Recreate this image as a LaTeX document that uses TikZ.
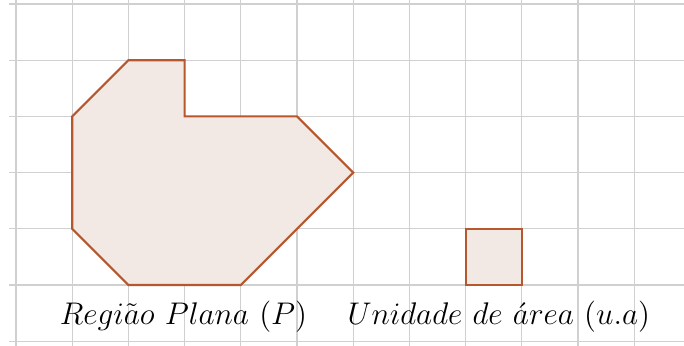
\documentclass[tikz,border=0pt]{standalone}
\usepackage{graphicx}
\usepackage{tikz}
\definecolor{gridc}{RGB}{208,208,208}
\definecolor{edgec}{RGB}{183,87,46}
\definecolor{fillc}{RGB}{243,233,228}
\newcommand{\lbltext}[1]{\scalebox{1.10}{\fontsize{14.4}{17}\selectfont #1}}
\tikzset{
  gridline/.style={draw=gridc, line width=0.6pt},
  region/.style={draw=edgec, fill=fillc, line width=1.1pt, line join=miter},
  lbl/.style={inner sep=0pt}
}
\begin{document}
\begin{tikzpicture}[x=1cm,y=1cm]
\useasboundingbox (-0.285,-1.068) rectangle (11.886,5.071);
\fill[white] (-0.285,-1.068) rectangle (11.886,5.071);
% grid
\foreach \i in {0,...,11} \draw[gridline] (\i,-1.1) -- (\i,5.1);
\foreach \j in {-1,...,5} \draw[gridline] (-0.125,\j) -- (11.9,\j);
% region P
\draw[region] (2,0) coordinate (p1) -- (4,0) coordinate (p2) -- (6,2) coordinate (p3)
  -- (5,3) coordinate (p4) -- (3,3) coordinate (p5) -- (3,4) coordinate (p6)
  -- (2,4) coordinate (p7) -- (1,3) coordinate (p8) -- (1,1) coordinate (p9) -- cycle;
% unit square
\draw[region] (8,0) rectangle (9,1);
% labels
\node[lbl] (lp) at (2.98,-0.56) {\lbltext{$Regi\tilde{a}o\ Plana\ (P)$}};
\node[lbl] (lu) at (8.59,-0.56) {\lbltext{$Unidade\ de\ \acute{a}rea\ (u.a)$}};
\end{tikzpicture}
\end{document}
